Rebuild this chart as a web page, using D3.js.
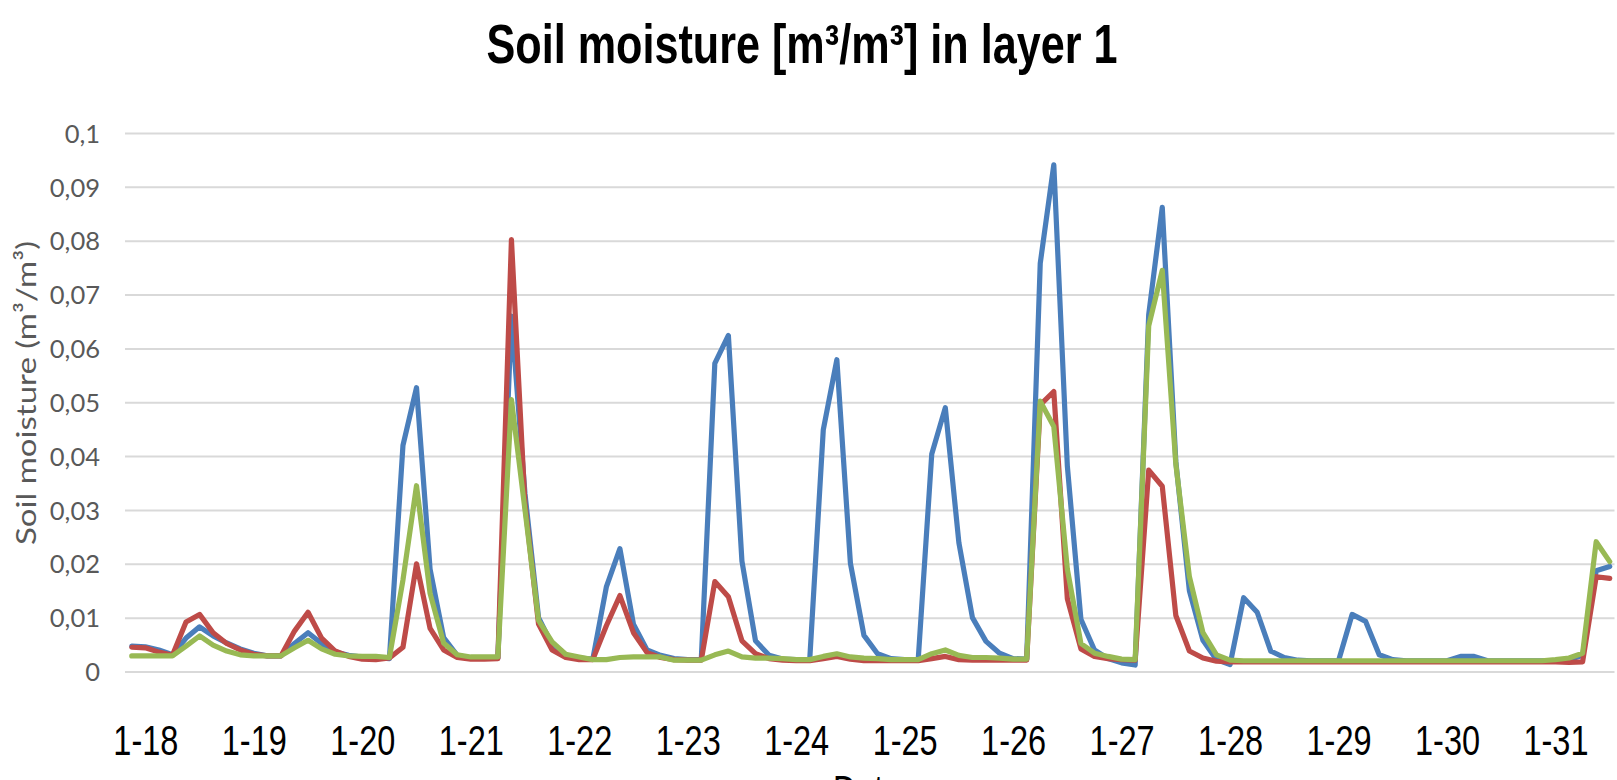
<!DOCTYPE html>
<html>
<head>
<meta charset="utf-8">
<script src="https://cdn.jsdelivr.net/npm/d3@7"></script>
<style>
  html, body { margin: 0; padding: 0; background: #ffffff; }
  svg { display: block; }
</style>
</head>
<body>
<div id="chart"></div>
<script>
// 3-hourly steps, 8 per day, 1-18 to 1-31
var dayLabels = ["1-18", "1-19", "1-20", "1-21", "1-22", "1-23", "1-24",
    "1-25", "1-26", "1-27", "1-28", "1-29", "1-30", "1-31"];

var yTicks = [0, 0.01, 0.02, 0.03, 0.04, 0.05, 0.06, 0.07, 0.08, 0.09, 0.1];

var blueSeries = [
    0.0047, 0.0046, 0.0040, 0.0031, 0.0062, 0.0083, 0.0066, 0.0053, 0.0042, 0.0034,
    0.0029, 0.0029, 0.0052, 0.0072, 0.0052, 0.0036, 0.0030, 0.0027, 0.0026, 0.0024,
    0.0420, 0.0527, 0.0190, 0.0063, 0.0030, 0.0025, 0.0025, 0.0025, 0.0660, 0.0330,
    0.0100, 0.0050, 0.0030, 0.0025, 0.0023, 0.0157, 0.0228, 0.0088, 0.0040, 0.0030,
    0.0024, 0.0022, 0.0022, 0.0572, 0.0624, 0.0205, 0.0057, 0.0030, 0.0023, 0.0022,
    0.0022, 0.0449, 0.0579, 0.0201, 0.0067, 0.0033, 0.0024, 0.0022, 0.0022, 0.0404,
    0.0490, 0.0239, 0.0100, 0.0056, 0.0034, 0.0024, 0.0023, 0.0758, 0.0941, 0.0381,
    0.0097, 0.0040, 0.0024, 0.0016, 0.0012, 0.0663, 0.0862, 0.0390, 0.0150, 0.0058,
    0.0022, 0.0013, 0.0137, 0.0110, 0.0038, 0.0026, 0.0021, 0.0020, 0.0020, 0.0020,
    0.0106, 0.0093, 0.0031, 0.0022, 0.0020, 0.0020, 0.0020, 0.0020, 0.0028, 0.0028,
    0.0020, 0.0020, 0.0020, 0.0020, 0.0020, 0.0020, 0.0022, 0.0030, 0.0187, 0.0195
];

var redSeries = [
    0.0045, 0.0044, 0.0036, 0.0030, 0.0092, 0.0106, 0.0072, 0.0052, 0.0040, 0.0032,
    0.0029, 0.0029, 0.0075, 0.0110, 0.0062, 0.0038, 0.0028, 0.0023, 0.0022, 0.0025,
    0.0045, 0.0200, 0.0080, 0.0040, 0.0026, 0.0023, 0.0023, 0.0024, 0.0802, 0.0310,
    0.0088, 0.0040, 0.0026, 0.0022, 0.0022, 0.0085, 0.0141, 0.0072, 0.0035, 0.0026,
    0.0022, 0.0021, 0.0021, 0.0167, 0.0139, 0.0057, 0.0033, 0.0024, 0.0021, 0.0020,
    0.0020, 0.0024, 0.0028, 0.0023, 0.0020, 0.0020, 0.0020, 0.0020, 0.0020, 0.0024,
    0.0028, 0.0022, 0.0021, 0.0021, 0.0021, 0.0021, 0.0021, 0.0495, 0.0520, 0.0135,
    0.0042, 0.0028, 0.0024, 0.0022, 0.0021, 0.0374, 0.0344, 0.0104, 0.0038, 0.0025,
    0.0019, 0.0018, 0.0018, 0.0018, 0.0018, 0.0018, 0.0018, 0.0018, 0.0018, 0.0018,
    0.0018, 0.0018, 0.0018, 0.0018, 0.0018, 0.0018, 0.0018, 0.0018, 0.0018, 0.0018,
    0.0018, 0.0018, 0.0018, 0.0018, 0.0018, 0.0018, 0.0017, 0.0018, 0.0176, 0.0173
];

var greenSeries = [
    0.0029, 0.0029, 0.0029, 0.0029, 0.0047, 0.0066, 0.0049, 0.0038, 0.0031, 0.0029,
    0.0029, 0.0029, 0.0044, 0.0058, 0.0042, 0.0032, 0.0029, 0.0028, 0.0028, 0.0026,
    0.0170, 0.0345, 0.0145, 0.0053, 0.0031, 0.0027, 0.0027, 0.0027, 0.0505, 0.0300,
    0.0095, 0.0055, 0.0032, 0.0027, 0.0022, 0.0022, 0.0026, 0.0027, 0.0027, 0.0027,
    0.0021, 0.0021, 0.0021, 0.0031, 0.0038, 0.0027, 0.0025, 0.0025, 0.0024, 0.0022,
    0.0022, 0.0028, 0.0033, 0.0027, 0.0025, 0.0024, 0.0022, 0.0022, 0.0022, 0.0033,
    0.0040, 0.0030, 0.0026, 0.0026, 0.0025, 0.0023, 0.0023, 0.0502, 0.0455, 0.0190,
    0.0052, 0.0034, 0.0028, 0.0023, 0.0022, 0.0642, 0.0745, 0.0385, 0.0176, 0.0072,
    0.0031, 0.0021, 0.0020, 0.0020, 0.0020, 0.0020, 0.0020, 0.0020, 0.0020, 0.0020,
    0.0020, 0.0020, 0.0020, 0.0020, 0.0020, 0.0020, 0.0020, 0.0020, 0.0020, 0.0020,
    0.0020, 0.0020, 0.0020, 0.0020, 0.0020, 0.0022, 0.0025, 0.0034, 0.0241, 0.0204
];

var svgWidth = 1617;
var svgHeight = 780;

// plot area (right side runs off the picture like in the original)
var plot = { left: 125, right: 1616.5, top: 133, bottom: 671.5 };

var svg = d3.select("#chart")
    .append("svg")
    .attr("width", svgWidth)
    .attr("height", svgHeight);

svg.append("rect")
    .attr("width", svgWidth)
    .attr("height", svgHeight)
    .attr("fill", "#ffffff");

// category scale over the time steps
var xScale = d3.scaleLinear()
    .domain([-0.5, blueSeries.length - 0.5])
    .range([plot.left, plot.right]);

var yScale = d3.scaleLinear()
    .domain([0, 0.1])
    .range([plot.bottom, plot.top]);

// one label every 8 steps, first one on the second step
var labelSteps = dayLabels.map(function(d, i) { return 1 + i * 8; });

// horizontal gridlines
var gridAxis = d3.axisLeft(yScale)
    .tickValues(yTicks)
    .tickSize(-(plot.right - plot.left - 2))
    .tickFormat("");

var grid = svg.append("g")
    .attr("transform", `translate(${plot.left}, 0)`)
    .call(gridAxis);
grid.select(".domain").remove();
grid.selectAll("line")
    .attr("stroke", "#d9d9d9")
    .attr("stroke-width", 2);

// y axis labels with comma decimals
var leftAxis = d3.axisLeft(yScale)
    .tickValues(yTicks)
    .tickSize(0)
    .tickPadding(25)
    .tickFormat(d => d === 0 ? "0" : String(+d.toFixed(2)).replace(".", ","));

var yAxis = svg.append("g")
    .attr("transform", `translate(${plot.left}, 0)`)
    .call(leftAxis);
yAxis.select(".domain").remove();
yAxis.selectAll("text")
    .attr("dy", "0.36em")
    .style("font-family", "Lato, 'Open Sans', sans-serif")
    .style("font-size", "25.5px")
    .attr("fill", "#595959");

// x axis labels
var bottomAxis = d3.axisBottom(xScale)
    .tickValues(labelSteps)
    .tickSize(0)
    .tickFormat((d, i) => dayLabels[i]);

var xAxis = svg.append("g")
    .attr("transform", `translate(0, ${plot.bottom})`)
    .call(bottomAxis);
xAxis.select(".domain").remove();
xAxis.selectAll("text")
    .attr("y", 83.5)
    .attr("dy", 0)
    .attr("textLength", 65)
    .attr("lengthAdjust", "spacingAndGlyphs")
    .style("font-family", "'Liberation Sans', Arial, sans-serif")
    .style("font-size", "42px")
    .attr("fill", "#000000");

// lines
var lineGen = d3.line()
    .x((d, i) => xScale(i))
    .y(d => yScale(d));

var seriesList = [
    { values: blueSeries, color: "#4a7ebb" },
    { values: redSeries, color: "#be4b48" },
    { values: greenSeries, color: "#98b954" }
];

seriesList.forEach(function(s) {
    svg.append("path")
        .datum(s.values)
        .attr("d", lineGen)
        .attr("fill", "none")
        .attr("stroke", s.color)
        .attr("stroke-width", 5.2)
        .attr("stroke-linejoin", "round")
        .attr("stroke-linecap", "round");
});

// title
svg.append("text")
    .attr("x", 802)
    .attr("y", 63.3)
    .attr("text-anchor", "middle")
    .attr("textLength", 631)
    .attr("lengthAdjust", "spacingAndGlyphs")
    .style("font-family", "'Liberation Sans', Arial, sans-serif")
    .style("font-weight", "bold")
    .style("font-size", "55px")
    .attr("fill", "#000000")
    .text("Soil moisture [m³/m³] in layer 1");

// y axis title
svg.append("text")
    .attr("transform", "translate(36, 393) rotate(-90)")
    .attr("text-anchor", "middle")
    .attr("textLength", 304)
    .attr("lengthAdjust", "spacingAndGlyphs")
    .style("font-family", "Lato, 'Open Sans', sans-serif")
    .style("font-size", "27px")
    .attr("fill", "#595959")
    .text("Soil moisture (m³/m³)");

// x axis title, mostly below the visible area
svg.append("text")
    .attr("x", 867)
    .attr("y", 805)
    .attr("text-anchor", "middle")
    .attr("textLength", 68)
    .attr("lengthAdjust", "spacingAndGlyphs")
    .style("font-family", "'Liberation Sans', Arial, sans-serif")
    .style("font-size", "42px")
    .attr("fill", "#000000")
    .text("Date");
</script>
</body>
</html>
